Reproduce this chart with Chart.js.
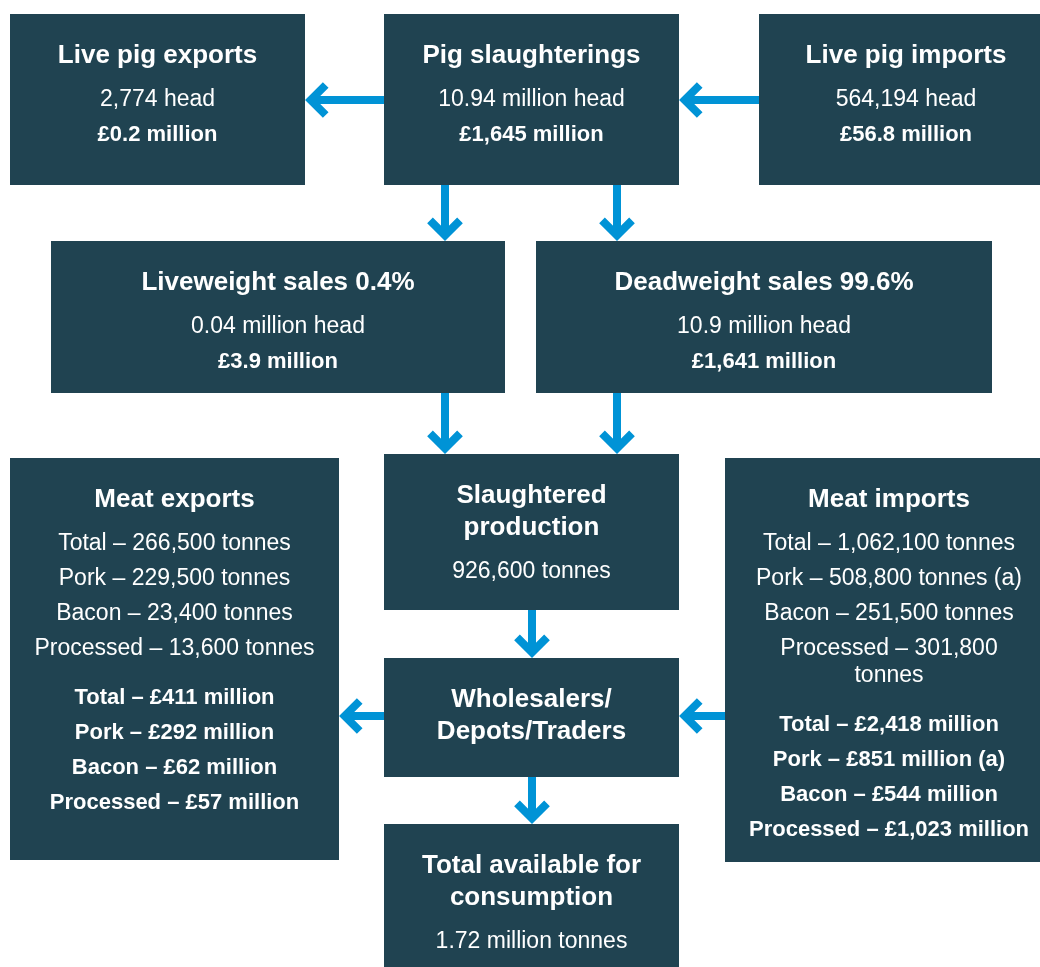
<!DOCTYPE html>
<html>
<head>
<meta charset="utf-8">
<script src="https://cdn.jsdelivr.net/npm/chart.js@4/dist/chart.umd.min.js"></script>
<style>
  html, body { margin: 0; padding: 0; background: #ffffff; }
  #wrap { width: 1040px; height: 967px; }
</style>
</head>
<body>
<div id="wrap"><canvas id="flow" width="1040" height="967"></canvas></div>
<script>
// Box headings
const titles = [
  ["Live pig exports"],
  ["Pig slaughterings"],
  ["Live pig imports"],
  ["Liveweight sales 0.4%"],
  ["Deadweight sales 99.6%"],
  ["Meat exports"],
  ["Slaughtered", "production"],
  ["Meat imports"],
  ["Wholesalers/", "Depots/Traders"],
  ["Total available for", "consumption"]
];

// Volumes (regular text)
const volumes = [
  ["2,774 head"],
  ["10.94 million head"],
  ["564,194 head"],
  ["0.04 million head"],
  ["10.9 million head"],
  ["Total – 266,500 tonnes", "Pork – 229,500 tonnes", "Bacon – 23,400 tonnes", "Processed – 13,600 tonnes"],
  ["926,600 tonnes"],
  ["Total – 1,062,100 tonnes", "Pork – 508,800 tonnes (a)", "Bacon – 251,500 tonnes", "Processed – 301,800\ntonnes"],
  [],
  ["1.72 million tonnes"]
];

// Values (bold text)
const values = [
  ["£0.2 million"],
  ["£1,645 million"],
  ["£56.8 million"],
  ["£3.9 million"],
  ["£1,641 million"],
  ["Total – £411 million", "Pork – £292 million", "Bacon – £62 million", "Processed – £57 million"],
  [],
  ["Total – £2,418 million", "Pork – £851 million (a)", "Bacon – £544 million", "Processed – £1,023 million"],
  [],
  []
];

// Layout: box extents in chart units [left, top, right, bottom]
const boxRects = [
  [10, 14, 305, 185],
  [384, 14, 679, 185],
  [759, 14, 1053, 185],
  [51, 241, 505, 393],
  [536, 241, 992, 393],
  [10, 458, 339, 860],
  [384, 454, 679, 610],
  [725, 458, 1053, 862],
  [384, 658, 679, 777],
  [384, 824, 679, 975]
];

// Flows: [from box, to box, position across the arrow]
const flows = [
  [1, 0, 100], [2, 1, 100],
  [1, 3, 445], [1, 4, 617],
  [3, 6, 445], [4, 6, 617],
  [6, 8, 532],
  [8, 5, 716], [7, 8, 716],
  [8, 9, 532]
];

const BOX = "#204351";
const ARROW = "#0093d6";
const FONT = "'Liberation Sans', Arial, Helvetica, sans-serif";

const flowPlugin = {
  id: "flow",
  afterDraw(chart) {
    const ctx = chart.ctx;
    const sx = chart.scales.x, sy = chart.scales.y;
    const px = v => sx.getPixelForValue(v);
    const py = v => sy.getPixelForValue(v);

    ctx.save();

    // Boxes
    boxRects.forEach(r => {
      ctx.fillStyle = BOX;
      ctx.fillRect(px(r[0]), py(r[1]), px(r[2]) - px(r[0]), py(r[3]) - py(r[1]));
    });

    // Arrows
    ctx.strokeStyle = ARROW;
    ctx.lineWidth = 8;
    ctx.lineCap = "butt";
    ctx.lineJoin = "miter";
    flows.forEach(([a, b, at]) => {
      const f = boxRects[a], t = boxRects[b];
      let x1, y1, x2, y2, dx, dy;
      if (t[3] <= f[1] || t[1] >= f[3]) {
        // vertical
        x1 = x2 = px(at);
        y1 = py(f[3]);
        y2 = py(t[1]);
        dx = 0; dy = 1;
      } else if (t[2] <= f[0]) {
        y1 = y2 = py(at);
        x1 = px(f[0]);
        x2 = px(t[2]);
        dx = -1; dy = 0;
      } else {
        y1 = y2 = py(at);
        x1 = px(f[2]);
        x2 = px(t[0]);
        dx = 1; dy = 0;
      }
      const vx = x2 - dx * 5.7, vy = y2 - dy * 5.7;
      ctx.beginPath();
      ctx.moveTo(x1, y1);
      ctx.lineTo(vx, vy);
      ctx.stroke();
      const k = 15;
      ctx.beginPath();
      ctx.moveTo(vx - dx * k + dy * k, vy - dy * k + dx * k);
      ctx.lineTo(vx, vy);
      ctx.lineTo(vx - dx * k - dy * k, vy - dy * k - dx * k);
      ctx.stroke();
    });

    // Text
    ctx.fillStyle = "#ffffff";
    ctx.textAlign = "center";
    ctx.textBaseline = "alphabetic";
    boxRects.forEach((r, i) => {
      const cx = px((r[0] + r[2]) / 2);
      let y = py(r[1]) + 49;
      ctx.font = "bold 26px " + FONT;
      titles[i].forEach((line, j) => {
        if (j > 0) y += 32;
        ctx.fillText(line, cx, y);
      });
      const rows = [];
      volumes[i].forEach(s => rows.push([s, false]));
      values[i].forEach(s => rows.push([s, true]));
      let first = true;
      rows.forEach(([s, bold], j) => {
        if (first) y += 43;
        else if (bold && j === volumes[i].length && volumes[i].length > 1) y += 49;
        else y += 35;
        first = false;
        ctx.font = bold ? "bold 22px " + FONT : "23px " + FONT;
        s.split("\n").forEach((part, k) => {
          if (k > 0) y += 27;
          ctx.fillText(part, cx, y);
        });
      });
    });

    ctx.restore();
  }
};

new Chart(document.getElementById("flow"), {
  type: "scatter",
  data: { datasets: [{ data: [], pointRadius: 0 }] },
  options: {
    responsive: false,
    animation: false,
    devicePixelRatio: 1,
    layout: { padding: 0 },
    plugins: { legend: { display: false }, tooltip: { enabled: false } },
    scales: {
      x: { type: "linear", min: 0, max: 1040, display: false },
      y: { type: "linear", min: 0, max: 967, reverse: true, display: false }
    }
  },
  plugins: [flowPlugin]
});
</script>
</body>
</html>
